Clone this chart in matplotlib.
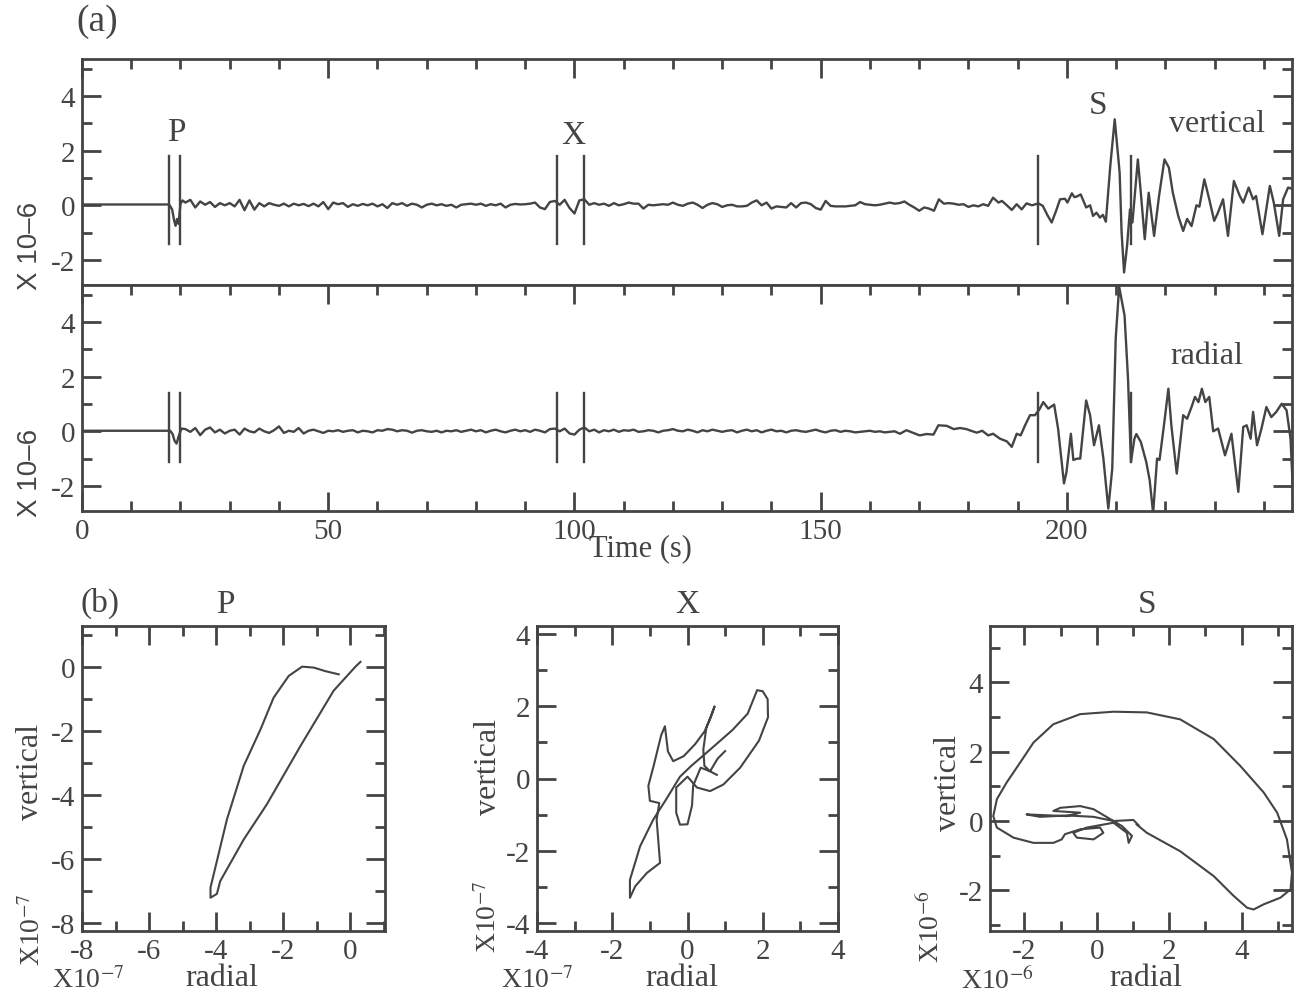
"""Seismogram (vertical / radial) with P, X, S picks and particle-motion plots."""
import matplotlib
matplotlib.use("Agg")
import matplotlib.pyplot as plt
import numpy as np
from matplotlib.ticker import MultipleLocator

plt.rcParams["font.family"] = ["Liberation Serif", "DejaVu Serif"]
plt.rcParams["mathtext.fontset"] = "stix"
plt.rcParams["axes.unicode_minus"] = False

INK = "#444444"

# ---------------- trace data (units of 1e-6) ----------------
# vertical component: pre-event + P onset
vert_t_onset = [0.0, 17.7, 18.3, 18.7, 19.0, 19.3, 19.6, 20.0, 20.4]
vert_v_onset = [0.03, 0.03, -0.15, -0.55, -0.75, -0.50, -0.68, 0.05, 0.18]
# vertical coda, one sample per second from 21 s to 185 s
vert_coda = [
    0.10, 0.20, -0.08, 0.14, 0.02, 0.12, -0.06, 0.08, 0.00, 0.08,
    -0.04, 0.20, -0.18, 0.18, -0.16, 0.08, -0.04, 0.08, 0.02, -0.02,
    0.06, -0.04, 0.06, 0.00, 0.05, -0.03, 0.06, -0.04, 0.12, -0.14,
    0.10, 0.04, 0.08, -0.06, 0.04, -0.02, 0.05, 0.00, 0.06, -0.04,
    0.04, -0.10, 0.08, 0.02, 0.08, -0.02, 0.06, 0.02, -0.08, 0.02,
    0.06, 0.00, 0.04, -0.02, 0.02, -0.08, 0.02, 0.04, 0.06, 0.02,
    0.06, -0.02, 0.04, 0.00, 0.06, -0.08, 0.02, 0.05, 0.03, 0.04,
    0.06, 0.10, -0.08, -0.14, 0.12, 0.16, 0.02, 0.20, -0.10, -0.30,
    0.18, 0.22, 0.02, 0.08, 0.02, 0.06, -0.02, 0.08, 0.00, 0.04,
    0.10, 0.06, 0.06, -0.12, 0.02, 0.00, 0.02, 0.04, 0.02, 0.10,
    0.02, -0.02, 0.06, 0.10, 0.02, -0.10, 0.02, 0.08, 0.04, -0.06,
    0.00, 0.02, -0.04, -0.04, -0.02, 0.10, 0.18, 0.00, 0.10, -0.12,
    -0.04, -0.06, -0.08, 0.08, -0.08, 0.08, 0.10, 0.04, -0.10, -0.16,
    0.16, -0.02, -0.04, -0.04, -0.04, -0.02, 0.00, 0.12, 0.04, 0.02,
    0.00, 0.02, 0.06, 0.10, 0.06, 0.08, 0.14, 0.02, -0.08, -0.20,
    -0.08, -0.12, -0.20, 0.22, 0.06, 0.08, 0.06, 0.02, 0.04, -0.06,
    0.00, -0.04, 0.04, -0.02, 0.28,
]
vert_t_s = [
    186.1, 186.8, 187.8, 188.8, 189.8, 190.8, 191.8, 192.9, 194.2, 195.1,
    196.0, 196.9, 197.8, 198.6, 199.6, 200.1, 201.0, 201.5, 202.0, 202.8,
    203.9, 204.7, 205.3, 206.0, 206.7, 207.3, 207.9, 208.8, 209.7, 210.7,
    211.1, 211.6, 212.2, 212.8, 213.3, 214.4, 215.0, 215.8, 216.6, 217.7,
    218.7, 219.8, 220.7, 221.5, 222.6, 223.6, 224.4, 225.3, 226.3, 226.9,
    227.9, 228.9, 229.9, 230.6, 231.7, 232.7, 233.9, 235.1, 235.8, 236.9,
    237.8, 238.4, 239.7, 241.2, 242.0, 243.1, 243.9, 244.9, 245.8,
]
vert_v_s = [
    0.10, 0.16, 0.00, -0.17, 0.04, -0.15, 0.07, 0.00, 0.07, -0.02,
    -0.35, -0.63, -0.20, 0.22, 0.24, 0.10, 0.44, 0.30, 0.32, 0.40,
    -0.08, 0.00, -0.39, -0.27, -0.45, -0.35, -0.60, 1.44, 3.15, 1.20,
    -1.00, -2.46, -1.50, -0.15, -0.63, 1.68, 0.46, -1.24, 0.46, -1.12,
    0.34, 1.68, 1.38, 0.46, -0.39, -0.94, -0.50, -0.76, 0.00, -0.05,
    0.95, 0.22, -0.57, -0.30, 0.22, -1.12, 0.89, 0.34, 0.10, 0.65,
    0.22, 0.34, -1.06, 0.71, 0.10, -1.12, 0.22, 0.65, 0.60,
]

# radial component
rad_t_onset = [0.0, 17.9, 18.4, 18.8, 19.2, 19.6, 20.2]
rad_v_onset = [0.02, 0.02, -0.10, -0.35, -0.45, -0.20, 0.10]
# radial coda, one sample per second from 21 s to 165 s
rad_coda = [
    0.08, -0.02, 0.12, -0.14, 0.06, 0.14, -0.04, 0.06, -0.08, 0.02,
    0.06, -0.12, 0.10, 0.00, -0.04, 0.10, 0.00, -0.06, 0.04, 0.18,
    -0.06, 0.02, -0.02, 0.12, -0.08, 0.02, 0.06, 0.00, -0.06, 0.02,
    0.00, 0.04, -0.02, 0.02, 0.04, -0.04, 0.02, 0.00, -0.04, 0.04,
    0.02, 0.08, 0.06, 0.00, 0.04, 0.02, -0.05, 0.02, 0.04, 0.00,
    -0.02, 0.02, -0.04, 0.02, 0.00, 0.04, -0.02, 0.02, 0.06, 0.00,
    0.04, -0.04, 0.02, 0.06, 0.00, -0.04, 0.02, 0.06, 0.00, 0.04,
    -0.02, 0.06, 0.02, -0.04, 0.08, 0.10, 0.00, 0.10, -0.08, -0.12,
    0.06, 0.14, 0.00, 0.06, -0.04, 0.04, 0.00, 0.06, -0.02, 0.04,
    0.02, 0.06, -0.02, 0.00, 0.04, 0.02, -0.04, 0.02, 0.04, 0.08,
    0.02, 0.00, 0.06, 0.02, -0.04, 0.04, 0.00, 0.06, 0.02, -0.02,
    0.02, 0.04, -0.04, 0.02, 0.06, 0.00, 0.04, -0.04, 0.02, 0.06,
    0.00, 0.02, -0.04, 0.02, 0.04, 0.00, -0.02, 0.02, 0.06, 0.00,
    -0.04, 0.02, 0.04, -0.02, 0.02, 0.00, -0.04, -0.02, 0.00, 0.02,
    -0.02, 0.00, -0.04, -0.02, 0.00,
]
rad_t_s = [
    166.1, 167.4, 168.7, 170.1, 171.5, 172.9, 173.9, 175.6, 177.0, 178.3,
    179.6, 180.5, 181.7, 182.8, 184.0, 185.0, 186.4, 187.8, 188.8, 189.8,
    190.6, 191.5, 192.5, 193.5, 194.4, 195.2, 196.2, 197.4, 198.2, 199.4,
    199.9, 200.8, 201.3, 202.1, 202.7, 203.9, 204.7, 205.5, 206.5, 207.4,
    208.4, 209.2, 209.9, 210.6, 211.7, 212.4, 213.0, 213.7, 214.1, 215.0,
    216.1, 216.8, 217.5, 218.3, 218.8, 219.7, 220.6, 221.2, 222.3, 223.6,
    224.4, 225.3, 226.0, 226.7, 227.4, 228.1, 228.9, 229.7, 230.7, 232.1,
    233.4, 234.8, 235.8, 236.5, 237.3, 237.8, 238.6, 239.5, 240.5, 241.5,
    242.5, 243.6, 244.6, 245.4, 245.9,
]
rad_v_s = [
    -0.09, 0.04, -0.05, -0.15, -0.10, -0.12, 0.22, 0.20, 0.08, 0.12,
    0.08, 0.02, -0.05, 0.02, -0.15, -0.09, -0.27, -0.37, -0.57, -0.09,
    -0.15, 0.22, 0.59, 0.59, 0.80, 1.07, 0.83, 0.98, 0.10, -1.91,
    -1.50, -0.09, -1.05, -1.00, -1.00, 1.13, 0.59, -0.51, 0.22, -1.00,
    -2.83, -1.37, 3.39, 5.30, 4.24, 1.93, -1.12, -0.27, -0.10, -0.39,
    -1.12, -1.79, -3.00, -1.00, -1.05, 0.22, 1.56, 0.22, -1.55, 0.59,
    0.46, 0.89, 1.26, 1.07, 1.56, 1.07, 1.26, 0.00, 0.10, -0.88,
    -0.09, -2.22, 0.16, 0.22, -0.27, 0.71, -0.51, 0.10, 0.89, 0.52,
    0.71, 1.01, 0.77, -0.27, -2.20,
]

# picks (s)
pick_names = ["P", "X", "S"]
pick_times = [(17.7, 19.9), (96.4, 101.9), (194.2, 213.1)]

# ---------------- particle motion (radial, vertical) ----------------
pm_p_r = [0.30, 0.15, -0.50, -1.49, -2.49, -3.18, -3.88, -3.98, -4.17,
          -4.17, -3.68, -3.18, -2.68, -2.29, -1.84, -1.44, -1.09, -0.75, -0.35]
pm_p_v = [0.15, 0.00, -0.75, -2.48, -4.30, -5.40, -6.70, -7.10, -7.22,
          -6.90, -4.77, -3.10, -1.96, -0.97, -0.29, 0.00, -0.03, -0.14, -0.24]

pm_x_r = [1.00, 0.80, 0.60, 0.45, 0.42, 0.50, 0.72, 0.62, 0.45, 0.20,
          -0.10, -0.38, -0.52, -0.60, -0.70, -0.90, -1.04, -1.00, -0.75, -0.82,
          -0.73, -1.08, -1.39, -1.53, -1.53, -1.26, -0.91, -0.55, -0.20, 0.10,
          0.60, 1.20, 1.60, 1.85, 2.00, 2.13, 2.14, 1.90, 1.40, 0.95,
          0.60, 0.25, 0.00, -0.30, -0.30, -0.20, 0.00, 0.12, 0.15, 0.35,
          0.60, 0.78]
pm_x_v = [0.76, 0.55, 0.20, 0.35, 0.80, 1.40, 2.00, 1.70, 1.30, 0.95,
          0.62, 0.48, 0.75, 1.45, 1.20, 0.35, -0.20, -0.62, -0.68, -1.14,
          -2.34, -2.62, -2.99, -3.31, -2.81, -1.88, -1.14, -0.55, 0.05, 0.35,
          0.80, 1.35, 1.80, 2.45, 2.42, 2.20, 1.70, 1.05, 0.30, -0.17,
          -0.35, -0.25, 0.05, -0.25, -0.95, -1.28, -1.27, -0.75, -0.20, 0.30,
          0.20, 0.10]

pm_s_r = [1.10, 1.38, 2.30, 3.23, 3.78, 4.15, 4.33, 4.61, 5.07, 5.35,
          5.39, 5.25, 4.98, 4.61, 3.96, 3.23, 2.30, 1.38, 0.46, -0.46,
          -1.20, -1.75, -2.12, -2.49, -2.76, -2.86, -2.76, -2.30, -1.75, -1.20,
          -0.97, -0.88, -0.46, 0.09, 0.18, -0.09, -0.55, -0.65, -0.28, 0.46,
          0.83, 0.88, 0.97, 0.70, -0.09, -0.46, -1.01, -1.20, -0.46, -0.83,
          -1.94, -1.57, -0.83, -0.09, 0.46, 1.01, 1.15]
pm_s_v = [-0.10, -0.34, -0.87, -1.59, -2.16, -2.50, -2.55, -2.40, -2.21, -1.97,
          -1.49, -0.53, 0.24, 0.82, 1.59, 2.36, 2.93, 3.13, 3.15, 3.08,
          2.79, 2.26, 1.68, 1.11, 0.63, 0.14, -0.19, -0.48, -0.63, -0.63,
          -0.53, -0.38, -0.24, -0.19, -0.34, -0.53, -0.48, -0.34, -0.19, -0.05,
          -0.34, -0.63, -0.43, -0.15, 0.34, 0.43, 0.38, 0.29, 0.24, 0.14,
          0.19, 0.12, 0.16, 0.12, 0.00, 0.03, -0.12]


def build_trace(t_on, v_on, coda, t0, t_s, v_s):
    t_coda = np.arange(t0, t0 + len(coda), 1.0)
    t = np.concatenate([t_on, t_coda, t_s])
    v = np.concatenate([v_on, coda, v_s])
    return t, v


def style_axis(ax, xmaj, xmin, ymaj, ymin, top=True, bottom=True):
    for sp in ax.spines.values():
        sp.set_color(INK)
        sp.set_linewidth(2.0)
    ax.xaxis.set_major_locator(MultipleLocator(xmaj))
    ax.xaxis.set_minor_locator(MultipleLocator(xmin))
    ax.yaxis.set_major_locator(MultipleLocator(ymaj))
    ax.yaxis.set_minor_locator(MultipleLocator(ymin))
    ax.tick_params(which="both", direction="in", color=INK, width=2.0,
                   top=top, bottom=bottom, left=True, right=True,
                   labelcolor=INK, labelsize=21)
    ax.tick_params(which="major", length=14, pad=5)
    ax.tick_params(which="minor", length=7)


fig = plt.figure(figsize=(12.98, 9.95), dpi=100)

W, H = 1298.0, 995.0
ax_v = fig.add_axes([82 / W, 1 - 286 / H, 1210 / W, 226 / H])
ax_r = fig.add_axes([82 / W, 1 - 512 / H, 1210 / W, 226 / H])

t_v, v_v = build_trace(vert_t_onset, vert_v_onset, vert_coda, 21, vert_t_s, vert_v_s)
t_r, v_r = build_trace(rad_t_onset, rad_v_onset, rad_coda, 21, rad_t_s, rad_v_s)

for ax, t, v, name, lab_x, lab_y, span in [
    (ax_v, t_v, v_v, "vertical", 230.5, 3.0, (-1.43, 1.8)),
    (ax_r, t_r, v_r, "radial", 228.5, 2.77, (-1.12, 1.4)),
]:
    ax.plot(t, v, color=INK, lw=1.7, solid_joinstyle="round")
    for pair in pick_times:
        for tp in pair:
            ax.plot([tp, tp], span, color=INK, lw=1.7)
    ax.set_xlim(0, 245.7)
    ax.set_ylim(-2.92, 5.36)
    ax.text(lab_x, lab_y, name, fontsize=23, color=INK, ha="center", va="center")

style_axis(ax_v, 50, 10, 2, 1, top=True, bottom=False)
ax_v.tick_params(labelbottom=False)
style_axis(ax_r, 50, 10, 2, 1, top=True, bottom=True)

# pick labels
ax_v.text(19.1, 2.7, "P", fontsize=24, color=INK, ha="center", va="center")
ax_v.text(99.7, 2.6, "X", fontsize=24, color=INK, ha="center", va="center")
ax_v.text(206.3, 3.7, "S", fontsize=24, color=INK, ha="center", va="center")

for yc in (246, 473):
    fig.text(0.023, 1 - yc / H, "X 10\u20136", rotation=90, fontsize=20,
             family=["Liberation Sans", "DejaVu Sans"], color=INK,
             ha="center", va="center")
fig.text(640 / W, 1 - 549 / H, "Time (s)", fontsize=22, color=INK,
         ha="center", va="center")
fig.text(97 / W, 1 - 22 / H, "(a)", fontsize=27, color=INK,
         ha="center", va="center")
fig.text(100 / W, 1 - 603 / H, "(b)", fontsize=24, color=INK,
         ha="center", va="center")

# ---------------- particle motion panels ----------------
panels = [
    dict(left=82, width=303, r=pm_p_r, v=pm_p_v, xlim=(-8, 1.03), ylim=(-8.26, 1.27),
         title="P", exp="-7", title_x=225, ylab_x=31, ylab_y=772,
         xl_x=222, hx=(88, 981), vx=(33, 930)),
    dict(left=537, width=301, r=pm_x_r, v=pm_x_v, xlim=(-4, 4), ylim=(-4.23, 4.23),
         title="X", exp="-7", title_x=687, ylab_x=489, ylab_y=767,
         xl_x=682, hx=(537, 981), vx=(489, 917)),
    dict(left=990, width=302, r=pm_s_r, v=pm_s_v, xlim=(-2.95, 5.39), ylim=(-3.17, 5.62),
         title="S", exp="-6", title_x=1147, ylab_x=948, ylab_y=783,
         xl_x=1146, hx=(997, 981), vx=(931, 927)),
]

for p in panels:
    ax = fig.add_axes([p["left"] / W, 1 - 932 / H, p["width"] / W, 305 / H])
    ax.plot(p["r"], p["v"], color=INK, lw=1.5, solid_joinstyle="round")
    ax.set_xlim(*p["xlim"])
    ax.set_ylim(*p["ylim"])
    style_axis(ax, 2, 1, 2, 1)
    fig.text(p["title_x"] / W, 1 - 605 / H, p["title"], fontsize=24, color=INK,
             ha="center", va="center")
    fig.text(p["ylab_x"] / W, 1 - p["ylab_y"] / H, "vertical", rotation=90,
             fontsize=23, color=INK, ha="center", va="center")
    fig.text(p["xl_x"] / W, 1 - 979 / H, "radial", fontsize=23, color=INK,
             ha="center", va="center")
    exp_txt = "X10$^{%s}$" % p["exp"]
    fig.text(p["hx"][0] / W, 1 - p["hx"][1] / H, exp_txt, fontsize=20, color=INK,
             ha="center", va="center")
    fig.text(p["vx"][0] / W, 1 - p["vx"][1] / H, exp_txt, fontsize=20, color=INK,
             rotation=90, ha="center", va="center")

fig.savefig("out.png", dpi=100)
